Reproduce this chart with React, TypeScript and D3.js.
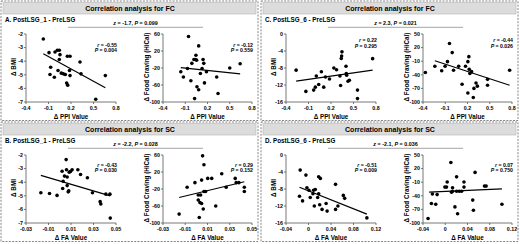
import React from "react";
import * as d3 from "d3";

// ---------- DATA ----------
const headers = ["Correlation analysis for FC", "Correlation analysis for SC"];
const panelTitles = ["A. PostLSG_1 - PreLSG", "C. PostLSG_6 - PreLSG", "B. PostLSG_1 - PreLSG", "D. PostLSG_6 - PreLSG"];
const zTexts = [["-1.7", "0.099"], ["2.3", "0.021"], ["-2.2", "0.028"], ["-2.1", "0.036"]];

const ppiTicks = [-0.4, -0.1, 0.2, 0.5, 0.8];
const faTicksB = [-0.03, -0.01, 0.01, 0.03, 0.05];
const faTicksD = [-0.04, 0, 0.04, 0.08, 0.12];
const bmiTicksAB = [-2, -3, -4, -5, -6, -7];
const bmiTicksCD = [0, -4, -8, -12, -16];
const cravTicksAB = [60, 20, -20, -60, -100];
const cravTicksCD = [50, 20, -10, -40, -70, -100];

// Panel A
const aBmiX = [-0.169, -0.093, -0.013, 0.018, 0.044, 0.053, 0.044, 0.151, 0.187, -0.071, -0.08, -0.022, 0.027, 0.071, 0.098, 0.124, 0.18, 0.187, 0.142, 0.156, 0.32, 0.333, 0.658, 0.53];
const aBmiY = [-2.37, -3.37, -3.32, -3.19, -3.19, -3.52, -3.87, -3.64, -3.64, -4.44, -4.98, -5.18, -4.68, -4.88, -4.93, -4.98, -4.68, -5.06, -5.61, -5.76, -4.06, -4.93, -5.06, -6.8];
const aBmiFitX = [-0.169, 0.658];
const aBmiFitY = [-3.45, -5.95];
const aCravX = [-0.16, -0.125, -0.07, -0.056, -0.024, -0.011, 0.017, 0.026, 0.035, 0.044, 0.053, 0.058, 0.081, 0.081, 0.104, 0.127, 0.14, 0.15, 0.159, 0.186, 0.324, 0.342, 0.5, 0.64];
const aCravY = [-29, -41, -21, 54, -50, -9, 0, -92, 0, 10, -1.5, -64, 32, -71, -33, -21, 0, -9, -55, -29, -41, -80, -20, -10];
const aCravFitX = [-0.16, 0.64];
const aCravFitY = [-19, -34];

// Panel C
const cBmiX = [-0.265, -0.135, -0.031, -0.009, 0.036, 0.004, 0.072, 0.103, 0.126, 0.18, 0.238, 0.274, 0.319, 0.328, 0.337, 0.342, 0.346, 0.4, 0.404, 0.409, 0.427, 0.445, 0.553, 0.553, 0.755];
const cBmiY = [-8.5, -13.5, -13.2, -12.5, -11.9, -9.9, -8.9, -12.5, -10.1, -10.6, -8, -8.4, -9.9, -12.1, -5.75, -5.2, -4.2, -7.6, -9.3, -9.7, -11.1, -10.9, -13.2, -15.2, -5.8];
const cBmiFitX = [-0.265, 0.755];
const cBmiFitY = [-11.1, -8.5];
const cCravX = [-0.368, -0.24, -0.148, -0.102, -0.07, -0.043, -0.006, 0.012, 0.081, 0.127, 0.173, 0.218, 0.205, 0.223, 0.232, 0.255, 0.205, 0.278, 0.287, 0.315, 0.333, 0.47, 0.47, 0.768];
const cCravY = [-35, -21, -31, -21, -11, 29, 9, -30, -21, -61, -21, 0, -11, -28, -37, -33, -80, -90, -70, -58, -65, -63, -50, -30];
const cCravFitX = [-0.24, 0.768];
const cCravFitY = [-9, -63];

// Panel B
const bBmiX = [-0.0168, -0.0091, -0.0024, 0.0026, 0.0021, 0.003, 0.0057, 0.0042, 0.006, 0.0066, 0.0066, 0.0075, 0.008, 0.0084, 0.0096, 0.011, 0.0161, 0.0185, 0.0246, 0.0291, 0.0359, 0.0365, 0.041, 0.0446, 0.0449];
const bBmiY = [-4.78, -4.83, -4.97, -4.46, -3.19, -3.93, -2.34, -3.55, -3.09, -3.62, -4.25, -4.71, -4.64, -3.26, -3.21, -3.09, -3.09, -3.43, -3.67, -4.78, -5.43, -5.6, -4.88, -4.88, -6.64];
const bBmiFitX = [-0.0168, 0.0449];
const bBmiFitY = [-3.5, -5.0];
const bCravX = [-0.0155, -0.0083, -0.0013, 0.0056, 0.0068, 0.0047, 0.0017, 0.0038, 0.0017, 0.0032, 0.0047, 0.0062, 0.0026, 0.0068, 0.0083, 0.0102, 0.0138, 0.0174, 0.0228, 0.0268, 0.0349, 0.0358, 0.0382, 0.0431, 0.0431];
const bCravY = [-79, -16, -5, 58, 37, 1, -34, -34, -46, -52, -54, -67, -87, -26, -26, 5, 5, -60, 16, -16, 5, -5, -5, -16, -26];
const bCravFitX = [-0.0155, 0.0431];
const bCravFitY = [-40, -3];

// Panel D
const dBmiX = [-0.0148, -0.0046, -0.016, -0.0106, -0.0028, 0.0008, 0.0031, 0.0079, 0.0091, 0.0121, 0.0103, 0.0163, 0.0181, 0.0211, 0.0181, 0.0199, 0.0241, 0.0313, 0.0331, 0.0481, 0.0481, 0.0523, 0.0619, 0.0643, 0.1038];
const dBmiY = [-3.55, -4.73, -9.7, -10.8, -7.7, -8.3, -10, -9.1, -8.3, -8.1, -12, -10, -5.1, -5.5, -9.1, -11.7, -12.8, -11.4, -13.2, -6.9, -12.8, -12, -9.5, -10.2, -14.8];
const dBmiFitX = [-0.016, 0.1038];
const dBmiFitY = [-7.6, -13.9];
const dCravX = [-0.0309, -0.0231, -0.0249, -0.0171, -0.0146, -0.0007, 0.0035, 0.0023, 0.0101, 0.0113, 0.0131, 0.0131, 0.0174, 0.0204, 0.0204, 0.0252, 0.0294, 0.0222, 0.0337, 0.0337, 0.0494, 0.0506, 0.0536, 0.0705, 0.0735, 0.1019];
const dCravY = [-90, -36, -57, -58.5, -37.4, -20.8, -9.5, -20.8, 33.4, -32, -30, -22.3, -64.5, 1.8, -30, -30, -30, -79.6, -20.8, -9.5, -49.5, -72, 11.6, -18.6, -18.6, -58.5];
const dCravFitX = [-0.029, 0.1019];
const dCravFitY = [-32, -24.6];

const rValues = [["-0.55", "0.004"], ["-0.12", "0.559"], ["0.22", "0.295"], ["-0.44", "0.026"], ["-0.43", "0.030"], ["0.29", "0.152"], ["-0.51", "0.009"], ["0.07", "0.750"]];

// ---------- DRAWING ----------
const FONT = "'Liberation Sans', Arial, sans-serif";
const AXIS = "#555";

type Spec = {
  xs: number[]; ys: number[]; fx: number[]; fy: number[];
  xTicks: number[]; yTicks: number[]; xLabel: string; yLabel: string;
  rp: string[]; rpY: number;
};

function Plot({ ox, oy, side, s }: { ox: number; oy: number; side: number; s: Spec }) {
  const x0 = ox + (side === 0 ? 26 : 163);
  const x1 = ox + (side === 0 ? 116 : 252);
  const yT = oy + 34;
  const yB = oy + 102;
  const xd = [s.xTicks[0], s.xTicks[s.xTicks.length - 1]];
  const yd = [s.yTicks[s.yTicks.length - 1], s.yTicks[0]];
  const x = d3.scaleLinear().domain(xd).range([x0, x1]);
  const y = d3.scaleLinear().domain(yd).range([yB, yT]);
  const line = d3.line<[number, number]>().x((d) => x(d[0])).y((d) => y(d[1]));
  const fit: [number, number][] = s.fx.map((v, i) => [v, s.fy[i]]);
  const ytc = side === 0 ? ox + 14 : ox + 147;
  return (
    <g fontFamily={FONT} fontWeight="bold">
      <line x1={x0} x2={x0} y1={yT} y2={yB} stroke={AXIS} strokeWidth={0.8} />
      <line x1={x0} x2={x1} y1={yB} y2={yB} stroke={AXIS} strokeWidth={0.8} />
      {s.yTicks.map((t) => (
        <g key={"y" + t}>
          <line x1={x0 - 2} x2={x0} y1={y(t)} y2={y(t)} stroke={AXIS} strokeWidth={0.8} />
          <text x={x0 - 3} y={y(t)} dy="0.35em" textAnchor="end" fontSize={5.3}>{String(t)}</text>
        </g>
      ))}
      {s.xTicks.map((t) => (
        <g key={"x" + t}>
          <line x1={x(t)} x2={x(t)} y1={yB} y2={yB + 2} stroke={AXIS} strokeWidth={0.8} />
          <text x={x(t)} y={yB + 8} textAnchor="middle" fontSize={5.3}>{String(t)}</text>
        </g>
      ))}
      <text x={(x0 + x1) / 2} y={oy + 119.3} textAnchor="middle" fontSize={6.3}>{s.xLabel}</text>
      <text transform={`translate(${ytc},${oy + 67}) rotate(-90)`} dy="0.35em" textAnchor="middle" fontSize={6.3}>{s.yLabel}</text>
      <path d={line(fit) || ""} stroke="#000" strokeWidth={1.2} fill="none" />
      {s.xs.map((v, i) => (
        <circle key={i} cx={x(v)} cy={y(s.ys[i])} r={1.8} fill="#000" />
      ))}
      <text x={x1 + 1} y={oy + s.rpY} textAnchor="end" fontSize={5.2}>
        <tspan fontStyle="italic">r</tspan> = {s.rp[0]}
      </text>
      <text x={x1 + 1} y={oy + s.rpY + 5.8} textAnchor="end" fontSize={5.2}>
        <tspan fontStyle="italic">P</tspan> = {s.rp[1]}
      </text>
    </g>
  );
}

function Quadrant({ ox, oy, header, title, z, left, right }: any) {
  return (
    <g>
      <rect x={ox + 1} y={oy + 1} width={257} height={119.5} fill="#fff" stroke="#666" strokeWidth={0.8} strokeDasharray="2 1.3" />
      <rect x={ox + 3} y={oy + 2.5} width={253} height={11.5} fill="#dcdcdc" stroke="#b5b5b5" strokeWidth={0.6} />
      <text x={ox + 130} y={oy + 10.8} textAnchor="middle" fontFamily={FONT} fontWeight="bold" fontSize={7}>{header}</text>
      <text x={ox + 5} y={oy + 22.3} fontFamily={FONT} fontWeight="bold" fontSize={6.3}>{title}</text>
      <text x={ox + 135.5} y={oy + 24.6} textAnchor="middle" fontFamily={FONT} fontWeight="bold" fontSize={5.4}>
        <tspan fontStyle="italic">z</tspan> = {z[0]}, <tspan fontStyle="italic">P</tspan> = {z[1]}
      </text>
      <line x1={ox + 68} x2={ox + 203} y1={oy + 27.3} y2={oy + 27.3} stroke="#a6a6a6" strokeWidth={1} />
      <Plot ox={ox} oy={oy} side={0} s={left} />
      <Plot ox={ox} oy={oy} side={1} s={right} />
    </g>
  );
}

export default function App() {
  const A = {
    left: { xs: aBmiX, ys: aBmiY, fx: aBmiFitX, fy: aBmiFitY, xTicks: ppiTicks, yTicks: bmiTicksAB, xLabel: "Δ PPI Value", yLabel: "Δ BMI", rp: rValues[0], rpY: 46.5 },
    right: { xs: aCravX, ys: aCravY, fx: aCravFitX, fy: aCravFitY, xTicks: ppiTicks, yTicks: cravTicksAB, xLabel: "Δ PPI Value", yLabel: "Δ Food Craving (HiCal)", rp: rValues[1], rpY: 46.5 },
  };
  const C = {
    left: { xs: cBmiX, ys: cBmiY, fx: cBmiFitX, fy: cBmiFitY, xTicks: ppiTicks, yTicks: bmiTicksCD, xLabel: "Δ PPI Value", yLabel: "Δ BMI", rp: rValues[2], rpY: 42 },
    right: { xs: cCravX, ys: cCravY, fx: cCravFitX, fy: cCravFitY, xTicks: ppiTicks, yTicks: cravTicksCD, xLabel: "Δ PPI Value", yLabel: "Δ Food Craving (HiCal)", rp: rValues[3], rpY: 42 },
  };
  const B = {
    left: { xs: bBmiX, ys: bBmiY, fx: bBmiFitX, fy: bBmiFitY, xTicks: faTicksB, yTicks: bmiTicksAB, xLabel: "Δ FA Value", yLabel: "Δ BMI", rp: rValues[4], rpY: 45.5 },
    right: { xs: bCravX, ys: bCravY, fx: bCravFitX, fy: bCravFitY, xTicks: faTicksB, yTicks: cravTicksAB, xLabel: "Δ FA Value", yLabel: "Δ Food Craving (HiCal)", rp: rValues[5], rpY: 45.5 },
  };
  const D = {
    left: { xs: dBmiX, ys: dBmiY, fx: dBmiFitX, fy: dBmiFitY, xTicks: faTicksD, yTicks: bmiTicksCD, xLabel: "Δ FA Value", yLabel: "Δ BMI", rp: rValues[6], rpY: 45.5 },
    right: { xs: dCravX, ys: dCravY, fx: dCravFitX, fy: dCravFitY, xTicks: faTicksD, yTicks: cravTicksCD, xLabel: "Δ FA Value", yLabel: "Δ Food Craving (HiCal)", rp: rValues[7], rpY: 45.5 },
  };
  return (
    <svg width={520} height={244} style={{ position: "absolute", left: 0, top: 0, background: "#fff" }}>
      <rect x={0} y={0} width={520} height={244} fill="#fff" />
      <Quadrant ox={0} oy={0} header={headers[0]} title={panelTitles[0]} z={zTexts[0]} left={A.left} right={A.right} />
      <Quadrant ox={260} oy={0} header={headers[0]} title={panelTitles[1]} z={zTexts[1]} left={C.left} right={C.right} />
      <Quadrant ox={0} oy={121} header={headers[1]} title={panelTitles[2]} z={zTexts[2]} left={B.left} right={B.right} />
      <Quadrant ox={260} oy={121} header={headers[1]} title={panelTitles[3]} z={zTexts[3]} left={D.left} right={D.right} />
    </svg>
  );
}
